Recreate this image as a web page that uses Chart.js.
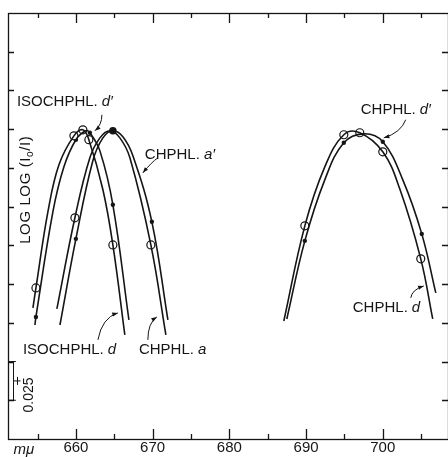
<!DOCTYPE html>
<html>
<head>
<meta charset="utf-8">
<script src="https://cdn.jsdelivr.net/npm/chart.js@4/dist/chart.umd.min.js"></script>
<style>
html, body { margin: 0; padding: 0; background: #fff; }
canvas { display: block; }
</style>
</head>
<body>
<canvas id="chart" width="448" height="457"></canvas>
<script>
var ink = "#151515";
var font = '"Liberation Sans", Arial, sans-serif';

// axis ranges (wavelength in m-mu, log log (Io/I))
var xMin = 651.15, xMax = 708.5;
var yMin = 0, yMax = 0.275;
var xTickLabels = [660, 670, 680, 690, 700];

// ISOCHPHL. d  (open circles)
var isoD_x = [654.40, 654.79, 656.35, 657.79, 659.74, 660.91, 661.69, 663.52, 664.82, 666.38];
var isoD_y = [0.0846, 0.0975, 0.1466, 0.1770, 0.1957, 0.1996, 0.1932, 0.1609, 0.1253, 0.0672];
// ISOCHPHL. d'  (dots)
var isoDp_x = [654.66, 654.79, 657.00, 658.44, 660.00, 661.30, 661.82, 663.13, 664.82, 666.91];
var isoDp_y = [0.0736, 0.0788, 0.1466, 0.1757, 0.1932, 0.1990, 0.1977, 0.1860, 0.1512, 0.0769];
// CHPHL. a  (open circles)
var chA_x = [657.52, 659.87, 661.82, 663.13, 664.43, 665.73, 667.04, 669.77, 671.73];
var chA_y = [0.0840, 0.1428, 0.1815, 0.1944, 0.1990, 0.1944, 0.1815, 0.1253, 0.0672];
// CHPHL. a'  (dots)
var chAp_x = [657.92, 660.00, 662.21, 663.52, 664.82, 666.12, 667.43, 669.90, 671.99];
var chAp_y = [0.0736, 0.1292, 0.1796, 0.1944, 0.1990, 0.1951, 0.1828, 0.1402, 0.0769];
// CHPHL. d  (open circles)
var chD_x = [687.10, 689.84, 692.44, 694.92, 697.00, 700.00, 702.21, 704.95, 706.51];
var chD_y = [0.0762, 0.1376, 0.1757, 0.1964, 0.1977, 0.1854, 0.1615, 0.1163, 0.0775];
// CHPHL. d'  (dots)
var chDp_x = [687.49, 689.84, 692.44, 694.92, 697.52, 700.00, 702.61, 705.08, 706.91];
var chDp_y = [0.0775, 0.1279, 0.1673, 0.1912, 0.1970, 0.1919, 0.1673, 0.1324, 0.0943];

// measured points
var open_x = [654.79, 659.74, 660.91, 661.69, 664.82, 659.87, 669.77, 689.84, 694.92, 697.00, 700.00, 704.95];
var open_y = [0.0975, 0.1957, 0.1996, 0.1932, 0.1253, 0.1428, 0.1253, 0.1376, 0.1964, 0.1977, 0.1854, 0.1163];
var dot_x = [654.79, 660.00, 661.82, 664.82, 660.00, 669.90, 689.84, 694.92, 700.00, 705.08];
var dot_y = [0.0788, 0.1932, 0.1977, 0.1512, 0.1292, 0.1402, 0.1279, 0.1912, 0.1919, 0.1324];
var bigDot_x = [664.82];
var bigDot_y = [0.1990];

// curve labels: text, italic part, x, y (left / middle)
var labelText = ["ISOCHPHL.", "CHPHL.", "CHPHL.", "ISOCHPHL.", "CHPHL.", "CHPHL."];
var labelItal = ["d\u2032", "a\u2032", "d\u2032", "d", "a", "d"];
var labelX = [652.31, 668.99, 697.13, 653.09, 668.21, 696.09];
var labelY = [0.2177, 0.1835, 0.2125, 0.0575, 0.0575, 0.0846];
// leader arrows: start, control, end
var arrowFrom = [[663.39, 0.2093], [670.68, 0.1815], [702.99, 0.2061], [662.87, 0.0640], [669.38, 0.0640], [703.65, 0.0911]];
var arrowCtl = [[663.39, 0.2028], [669.90, 0.1789], [702.35, 0.1977], [663.39, 0.0782], [669.38, 0.0749], [703.78, 0.0963]];
var arrowTo = [[662.48, 0.1990], [668.73, 0.1718], [700.13, 0.1944], [665.47, 0.0814], [670.55, 0.0788], [705.34, 0.0988]];

function pts(xa, ya) {
  return xa.map(function (x, i) { return { x: x, y: ya[i] }; });
}
function curve(label, xa, ya) {
  return { label: label, data: pts(xa, ya), showLine: true, borderColor: ink, borderWidth: 1.6,
    pointRadius: 0, tension: 0.4, fill: false };
}

var decor = {
  id: "decor",
  afterDraw: function (chart) {
    var ctx = chart.ctx, a = chart.chartArea;
    var xs = chart.scales.x, ys = chart.scales.y;
    var X = function (v) { return xs.getPixelForValue(v); };
    var Y = function (v) { return ys.getPixelForValue(v); };
    ctx.save();
    ctx.strokeStyle = ink;
    ctx.fillStyle = ink;
    ctx.lineWidth = 1.3;
    // frame
    ctx.strokeRect(a.left + 0.5, a.top + 0.5, a.right - a.left, a.bottom - a.top);
    // inward ticks
    ctx.beginPath();
    for (var v = 655; v <= 705; v += 5) {
      var len = v % 10 === 0 ? 10 : 5;
      var px = Math.round(X(v)) + 0.5;
      ctx.moveTo(px, a.bottom); ctx.lineTo(px, a.bottom - len);
      ctx.moveTo(px, a.top); ctx.lineTo(px, a.top + len);
    }
    for (var k = 1; k <= 10; k++) {
      var py = Math.round(Y(k * 0.025)) + 0.5;
      ctx.moveTo(a.left, py); ctx.lineTo(a.left + 6, py);
      ctx.moveTo(a.right, py); ctx.lineTo(a.right - 6, py);
    }
    ctx.stroke();

    // scale bar 0.025
    var bx = Math.round(X(651.79)) + 0.5, b0 = Y(0.025), b1 = Y(0.05);
    ctx.lineWidth = 1;
    ctx.beginPath();
    ctx.moveTo(bx, b0); ctx.lineTo(bx, b1);
    ctx.moveTo(X(651.27), b0); ctx.lineTo(X(652.18), b0);
    ctx.moveTo(X(651.27), b1); ctx.lineTo(X(652.18), b1);
    var mid = (b0 + b1) / 2;
    ctx.moveTo(bx, mid); ctx.lineTo(bx + 7, mid);
    ctx.moveTo(bx + 4, mid - 4); ctx.lineTo(bx + 4, mid + 4);
    ctx.stroke();

    // rotated texts
    ctx.textAlign = "center";
    ctx.textBaseline = "middle";
    ctx.save();
    ctx.translate(X(653.88), Y(0.0284));
    ctx.rotate(-Math.PI / 2);
    ctx.font = "14px " + font;
    ctx.fillText("0.025", 0, 0);
    ctx.restore();

    ctx.save();
    ctx.translate(X(653.49), Y(0.1609));
    ctx.rotate(-Math.PI / 2);
    ctx.letterSpacing = "0.6px";
    var p1 = "LOG LOG (I", p2 = "o", p3 = "/I)";
    ctx.font = "15px " + font;
    var w1 = ctx.measureText(p1).width, w3 = ctx.measureText(p3).width;
    ctx.font = "10px " + font;
    var w2 = ctx.measureText(p2).width;
    var sx = -(w1 + w2 + w3) / 2;
    ctx.textAlign = "left";
    ctx.font = "15px " + font;
    ctx.fillText(p1, sx, 0);
    ctx.font = "10px " + font;
    ctx.fillText(p2, sx + w1, 4);
    ctx.font = "15px " + font;
    ctx.fillText(p3, sx + w1 + w2, 0);
    ctx.restore();

    // unit
    ctx.font = "italic 15px " + font;
    ctx.textAlign = "center";
    ctx.fillText("m\u03bc", X(653.22), a.bottom + 11);

    // curve labels
    ctx.textAlign = "left";
    for (var i = 0; i < labelText.length; i++) {
      var lx = X(labelX[i]), ly = Y(labelY[i]);
      ctx.font = "15px " + font;
      ctx.fillText(labelText[i], lx, ly);
      var w = ctx.measureText(labelText[i]).width;
      ctx.font = "italic 15px " + font;
      ctx.fillText(labelItal[i], lx + w + 4, ly);
    }

    // arrows
    ctx.lineWidth = 1;
    for (var j = 0; j < arrowFrom.length; j++) {
      var fx = X(arrowFrom[j][0]), fy = Y(arrowFrom[j][1]);
      var cx = X(arrowCtl[j][0]), cy = Y(arrowCtl[j][1]);
      var tx = X(arrowTo[j][0]), ty = Y(arrowTo[j][1]);
      ctx.beginPath();
      ctx.moveTo(fx, fy);
      ctx.quadraticCurveTo(cx, cy, tx, ty);
      ctx.stroke();
      var ang = Math.atan2(ty - cy, tx - cx);
      ctx.beginPath();
      ctx.moveTo(tx, ty);
      ctx.lineTo(tx - 6 * Math.cos(ang - 0.35), ty - 6 * Math.sin(ang - 0.35));
      ctx.lineTo(tx - 6 * Math.cos(ang + 0.35), ty - 6 * Math.sin(ang + 0.35));
      ctx.closePath();
      ctx.fill();
    }
    ctx.restore();
  }
};

new Chart(document.getElementById("chart"), {
  type: "scatter",
  data: {
    datasets: [
      curve("ISOCHPHL. d", isoD_x, isoD_y),
      curve("ISOCHPHL. d'", isoDp_x, isoDp_y),
      curve("CHPHL. a", chA_x, chA_y),
      curve("CHPHL. a'", chAp_x, chAp_y),
      curve("CHPHL. d", chD_x, chD_y),
      curve("CHPHL. d'", chDp_x, chDp_y),
      { label: "open", data: pts(open_x, open_y), pointRadius: 4, pointBackgroundColor: "#fff",
        pointBorderColor: ink, pointBorderWidth: 1.2, showLine: false },
      { label: "dots", data: pts(dot_x, dot_y), pointRadius: 2.2, pointBackgroundColor: ink,
        pointBorderColor: ink, pointBorderWidth: 0, showLine: false },
      { label: "peak", data: pts(bigDot_x, bigDot_y), pointRadius: 3.8, pointBackgroundColor: ink,
        pointBorderColor: ink, pointBorderWidth: 0, showLine: false }
    ]
  },
  options: {
    responsive: false,
    animation: false,
    layout: { autoPadding: false, padding: { left: 8, top: 13, right: 0, bottom: 0 } },
    plugins: { legend: { display: false }, tooltip: { enabled: false } },
    scales: {
      x: {
        type: "linear", min: xMin, max: xMax,
        grid: { display: false, drawTicks: false },
        border: { display: false },
        ticks: {
          stepSize: 5, autoSkip: false, maxRotation: 0, padding: 0, color: ink,
          font: { family: font, size: 15 },
          callback: function (v) { return xTickLabels.indexOf(v) >= 0 ? String(v) : ""; }
        }
      },
      y: { type: "linear", min: yMin, max: yMax, display: false }
    }
  },
  plugins: [decor]
});
</script>
</body>
</html>
